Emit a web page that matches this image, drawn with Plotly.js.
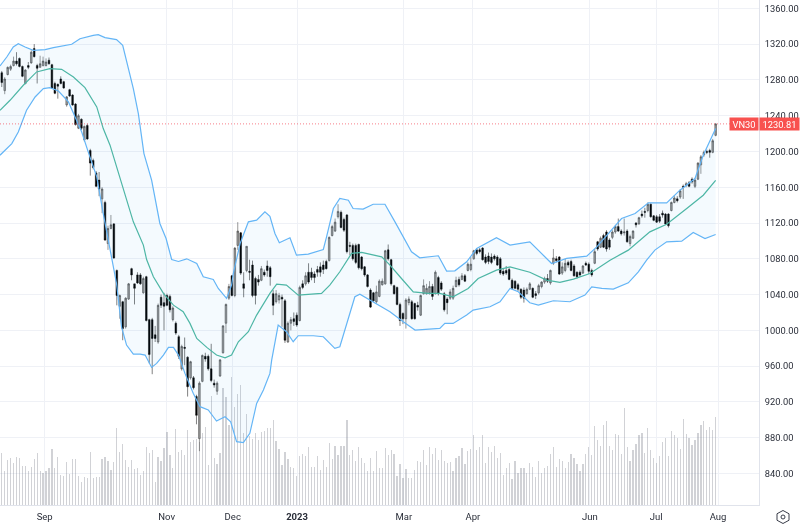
<!DOCTYPE html>
<html>
<head>
<meta charset="utf-8">
<script src="https://cdn.plot.ly/plotly-3.0.1.min.js"></script>
<style>html,body{margin:0;padding:0;background:#fff}#chart{width:800px;height:525px;filter:blur(0.35px)}</style>
</head>
<body>
<div id="chart"></div>
<script>
const tickPos = [15.15,56.5,78.9,100.7,136.9,160.3,200,222.4,243.4];
const tickLabels = ['Sep','Nov','Dec','<b>2023</b>','Mar','Apr','Jun','Jul','Aug'];
const priceTicks = [840,880,920,960,1000,1040,1080,1120,1160,1200,1240,1280,1320,1360];
const lastPrice = 1230.81;
const symbol = 'VN30';

const open = [1288,1268,1286,1292,1296,1301,1304,1295,1276,1296,
1299,1315,1296,1294,1296,1296,1302,1297,1276,1275,
1281,1278,1252,1269,1263,1253,1226,1236,1213,1229,
1201,1190,1176,1168,1147,1143,1097,1114,1119,1067,
1027,1032,1004,1035,1069,1052,1062,1062,1042,1060,
1012,1012,995,987,1037,1031,1039,1038,1012,1008,
993,957,981,970,947,947,926,879,943,971,
971,957,941,932,949,975,1008,1036,1061,1039,
1095,1109,1052,1067,1066,1073,1058,1057,1056,1065,
1072,1070,1041,1032,1034,1037,1033,987,1008,1013,
1017,1011,1052,1052,1065,1065,1063,1068,1071,1073,
1077,1078,1106,1111,1127,1132,1124,1129,1095,1095,
1095,1096,1082,1071,1062,1045,1042,1032,1038,1051,
1052,1090,1079,1050,1048,1029,1019,1013,1031,1032,
1030,1028,1017,1041,1041,1042,1049,1041,1059,1053,
1041,1035,1036,1036,1049,1057,1057,1061,1067,1068,
1080,1090,1090,1092,1082,1083,1082,1083,1082,1080,
1066,1067,1068,1056,1055,1051,1046,1045,1041,1046,
1047,1041,1042,1049,1054,1058,1053,1075,1080,1082,
1064,1067,1076,1077,1072,1065,1065,1064,1075,1074,
1067,1075,1099,1093,1106,1110,1101,1104,1110,1116,
1111,1109,1111,1097,1103,1120,1119,1130,1133,1134,
1141,1128,1127,1127,1131,1130,1130,1134,1143,1147,
1149,1161,1162,1165,1169,1161,1169,1185,1196,1200,
1201,1199,1218];
const high = [1290,1283,1295,1297,1306,1311,1305,1296,1292,1300,
1313,1320,1298,1307,1306,1304,1305,1298,1278,1276,
1284,1279,1262,1270,1264,1254,1242,1237,1229,1231,
1203,1192,1178,1177,1160,1145,1117,1129,1120,1068,
1040,1033,1037,1053,1070,1052,1065,1064,1060,1061,
1013,1014,1005,1030,1040,1042,1041,1040,1027,1010,
995,984,992,971,966,949,928,943,973,975,
973,985,945,943,968,1006,1030,1052,1062,1093,
1121,1110,1065,1094,1079,1078,1060,1062,1072,1068,
1078,1072,1045,1045,1042,1040,1035,1010,1015,1020,
1020,1050,1056,1065,1075,1070,1066,1072,1076,1078,
1079,1105,1118,1125,1141,1134,1126,1130,1099,1097,
1097,1097,1083,1072,1063,1047,1043,1050,1057,1058,
1090,1096,1080,1051,1049,1031,1020,1036,1038,1034,
1031,1032,1040,1057,1052,1055,1052,1067,1061,1055,
1043,1037,1046,1050,1060,1060,1064,1063,1076,1082,
1090,1092,1092,1093,1085,1087,1086,1085,1084,1082,
1069,1072,1070,1058,1056,1053,1047,1048,1048,1054,
1048,1044,1052,1055,1060,1063,1068,1091,1083,1083,
1076,1080,1078,1079,1074,1066,1067,1073,1077,1076,
1069,1091,1100,1105,1108,1112,1103,1112,1118,1125,
1113,1125,1113,1107,1112,1121,1127,1134,1137,1143,
1142,1129,1129,1130,1134,1131,1131,1144,1151,1150,
1158,1163,1166,1167,1171,1170,1188,1196,1201,1202,
1203,1214,1231.5];
const low = [1272,1264,1285,1290,1295,1296,1294,1283,1275,1292,
1298,1305,1276,1294,1295,1295,1297,1270,1264,1259,
1275,1270,1250,1261,1251,1229,1225,1224,1211,1213,
1173,1180,1160,1150,1131,1100,1090,1113,1080,1028,
1013,989,1002,1034,1056,1029,1052,1051,1041,1010,
963,951,987,985,1025,1000,1027,1020,1010,995,
968,955,961,926,945,934,895,865,942,965,
955,942,936,928,948,974,997,1034,1038,1037,
1090,1062,1037,1065,1056,1037,1029,1050,1055,1060,
1060,1050,1017,1030,1030,1004,986,986,1000,1005,
1004,1010,1046,1050,1052,1056,1053,1060,1060,1063,
1068,1077,1105,1110,1125,1114,1110,1086,1084,1078,
1074,1068,1067,1060,1048,1025,1032,1030,1037,1050,
1051,1078,1050,1040,1028,1005,1007,1002,1028,1012,
1012,1022,1016,1040,1040,1040,1034,1040,1039,1044,
1021,1018,1034,1034,1048,1049,1056,1054,1066,1066,
1079,1084,1086,1078,1074,1074,1074,1078,1072,1062,
1061,1062,1056,1046,1046,1044,1035,1031,1040,1045,
1036,1035,1040,1047,1052,1053,1051,1073,1076,1062,
1062,1065,1070,1066,1060,1058,1060,1063,1072,1063,
1060,1074,1089,1092,1092,1088,1090,1102,1108,1110,
1106,1106,1098,1094,1102,1115,1118,1126,1126,1132,
1126,1122,1120,1120,1126,1118,1115,1133,1142,1143,
1147,1147,1160,1160,1164,1159,1168,1175,1194,1197,
1193,1198,1217];
const close = [1277,1281,1294,1295,1301,1298,1295,1284,1291,1294,
1311,1306,1293,1298,1301,1300,1298,1271,1265,1273,
1276,1271,1261,1262,1252,1230,1240,1226,1228,1214,
1187,1182,1161,1158,1158,1101,1114,1118,1081,1039,
1039,1002,1036,1052,1062,1047,1053,1052,1058,1011,
973,991,991,1028,1028,1027,1028,1023,1025,997,
971,982,980,937,965,936,905,941,972,968,
957,944,939,941,967,1005,1029,1049,1039,1092,
1111,1064,1047,1094,1065,1039,1039,1054,1069,1062,
1067,1060,1028,1041,1039,1035,989,1008,1012,1010,
1006,1048,1048,1061,1054,1059,1059,1065,1065,1068,
1069,1104,1116,1121,1133,1115,1112,1088,1094,1080,
1076,1070,1069,1062,1049,1026,1033,1043,1055,1055,
1089,1080,1052,1041,1029,1011,1013,1034,1035,1013,
1013,1026,1039,1050,1047,1049,1038,1065,1041,1046,
1023,1031,1043,1047,1056,1051,1061,1055,1074,1074,
1089,1086,1088,1079,1076,1077,1076,1080,1073,1064,
1063,1064,1057,1047,1047,1046,1037,1036,1046,1052,
1037,1039,1050,1054,1058,1055,1067,1081,1078,1063,
1071,1075,1073,1067,1061,1060,1062,1072,1073,1066,
1062,1088,1091,1103,1093,1091,1093,1110,1116,1111,
1108,1110,1099,1105,1111,1118,1126,1128,1132,1141,
1127,1123,1121,1122,1129,1119,1117,1143,1148,1145,
1156,1160,1164,1161,1166,1168,1187,1194,1199,1199,
1199,1212,1230.81];
const volume = [52,34,45,47,42,48,47,39,39,34,
38,46,52,34,32,34,37,56,37,48,
30,29,43,31,46,46,29,23,28,27,
53,27,28,28,46,48,44,35,43,77,
53,61,45,38,45,36,37,30,34,58,
52,55,23,48,44,57,73,50,37,76,
53,55,50,75,63,65,66,63,72,78,
40,109,47,41,52,117,108,80,128,98,
111,120,72,91,69,66,72,65,73,74,
77,77,85,64,56,40,53,46,38,37,
29,49,51,49,58,38,38,49,35,45,
38,62,46,59,50,59,59,85,50,55,
44,58,47,42,34,47,34,54,37,37,
57,50,55,51,29,41,27,36,27,27,
35,44,43,55,40,58,51,57,45,55,
44,42,43,34,47,49,57,41,54,56,
70,55,58,70,42,58,53,59,47,52,
30,37,42,26,44,32,37,37,32,42,
38,28,44,32,37,39,51,58,38,46,
44,37,43,51,47,41,34,41,51,58,
50,79,65,59,80,84,59,55,71,70,
51,97,58,44,55,61,70,72,52,77,
55,47,42,49,63,67,49,74,70,67,
56,86,71,67,60,65,72,80,84,75,
78,75,88];

const upperX = [0,2.3,4.5,6.2,8.5,11.3,15.3,18.1,24.3,27.1,31.6,33.3,35.6,39.5,41.6,43.5,45.2,46.9,48.8,51.4,54.2,56.3,58.2,60.5,63.3,66.7,68.9,72.3,74,76.8,78.5,79.1,81.4,84.2,87,89.8,91.5,93.2,94.7,98.3,100.5,104.5,109.6,110.7,113,115.2,118.1,119.7,123.1,126.5,130.5,133.9,136.1,139.5,142.3,148.6,151.4,154.2,158.2,161.6,168.3,172.9,179.6,182.5,187,192.1,198.9,202.3,206.8,210.7,215.3,219.8,226,230.5,235.6,238.4,242.6];
const upperY = [1295.6,1305.6,1316.8,1320.5,1316.8,1313,1313.8,1316,1319.8,1326,1329.8,1330.6,1327.2,1325,1318.6,1294.4,1270.2,1242.3,1197.6,1167.9,1119.5,1102.7,1079.2,1077,1080,1074.8,1059.9,1056.9,1046.9,1035.7,1050.6,1063.6,1097.1,1121.3,1123.2,1132.5,1127.5,1108.3,1097.9,1103.5,1084.1,1085.2,1090.4,1104.6,1136.2,1147.4,1145.5,1136.2,1135.5,1141,1141,1121.3,1108.3,1087.8,1081.1,1083.4,1066.2,1066.6,1076.7,1091.5,1103.5,1095.3,1099,1089.7,1074.8,1080.4,1083,1093.4,1110.1,1125,1130.6,1142.5,1142.5,1156.7,1169.7,1195.8,1225.6];
const basisX = [0,3.4,7.9,12.4,16.9,20.9,24.9,28.8,32.8,35,37.3,39.5,42.4,45.2,48.6,49.7,52,55.4,58.8,62.1,64.4,66.7,70.1,73.4,76.3,78.5,80.8,84.2,87,89.3,91.5,93.8,97.1,101.1,109,111.8,115.2,119.2,122.6,129.4,132.2,136.1,140.1,145.2,149.1,153.6,158.7,162.1,168.3,172.9,179.6,185.3,189.8,194.4,200,206.8,213,220.3,226,232.8,238.4,242.6];
const basisY = [1246,1257.2,1274,1288.9,1292.6,1291.8,1283.3,1271.4,1249.8,1225.6,1207,1182.8,1149.2,1121.3,1095.3,1079.2,1059.9,1041.3,1028.2,1020.8,1007.8,991,981,972.4,969.4,972.4,987.3,998.5,1017.1,1030.1,1041.3,1051.7,1050.6,1039.4,1041.3,1050.6,1065.5,1086,1087.1,1082.2,1072.9,1058,1043.1,1041.3,1041.3,1037.5,1046.9,1058,1067.3,1071,1065,1056.2,1053.6,1057.3,1063.6,1078.5,1089.7,1110.1,1118.7,1136.2,1151.1,1167.8];
const lowerX = [0,4,6.2,9,11.9,14.7,16.9,19.8,23.2,25.4,27.7,29.9,32.8,35,37.9,39.5,41.2,42.9,45.2,47.5,49.2,51.4,53.1,55.4,57.1,58.8,60.5,62.7,65.5,67.8,70.6,73.4,76.3,78.2,80.2,82.5,84.7,87,89.3,91.5,92.1,94.3,97.1,99.4,101.1,106.2,109.6,113.5,115.2,117.5,120.3,122,125.4,132.2,136.7,140.7,149.1,150.8,153.6,158.2,160.4,166.1,169.5,172.9,175.7,179.6,182.5,187.6,193.2,198.3,200.6,204,207.9,213,216.4,219.2,222,226,231.1,235,239,242.6];
const lowerY = [1195.8,1208.8,1221.8,1246,1260.9,1270.2,1271.4,1267.6,1255.4,1238.6,1221.8,1199.5,1171.6,1130.6,1082.2,1052.4,1004,983.6,973.5,973.5,972.4,958.6,963.1,972.4,981,981,972.4,951.9,929.6,914.7,911,898.7,903.5,897.9,875.6,874.5,884.9,918.4,933.3,951.9,966.8,1005.9,998.5,987.3,994,994,992.9,979.9,981.7,1007.8,1037.6,1040.5,1033.8,1020.8,1009.6,1000.3,1002.2,1007.8,1007.8,1017.1,1022.7,1026.4,1032,1046.9,1043.1,1030.9,1028.2,1033.1,1032,1039.4,1048.7,1046.9,1046.1,1053.2,1065.5,1078.5,1089.7,1099,1099.7,1109.4,1102.7,1107.2];

const barSlot = open.map((_, k) => k + 0.6);

const traces = [
  {type:'bar', x:barSlot, y:volume, xaxis:'x', yaxis:'y', width:0.42,
   marker:{color:'rgba(120,123,134,0.34)', line:{width:0}}, hoverinfo:'skip'},
  {type:'scatter', mode:'lines', x:upperX, y:upperY, xaxis:'x', yaxis:'y2',
   line:{color:'#64b5f6', width:1.2}, hoverinfo:'skip'},
  {type:'scatter', mode:'lines', x:lowerX, y:lowerY, xaxis:'x', yaxis:'y2',
   line:{color:'#64b5f6', width:1.2}, fill:'tonexty', fillcolor:'rgba(33,150,243,0.05)', hoverinfo:'skip'},
  {type:'scatter', mode:'lines', x:basisX, y:basisY, xaxis:'x', yaxis:'y2',
   line:{color:'#4db6a5', width:1.2}, hoverinfo:'skip'},
  {type:'candlestick', x:barSlot, open:open, high:high, low:low, close:close, xaxis:'x', yaxis:'y2',
   whiskerwidth:0,
   increasing:{line:{color:'#333333', width:0.5}, fillcolor:'#a0a0a0'},
   decreasing:{line:{color:'#000000', width:0.5}, fillcolor:'#000000'},
   hoverinfo:'skip'}
];

const W = 759, H = 505;
const px = (a) => (a / W).toFixed(5);
const py = (b) => ((H - b) / H).toFixed(5);
function iconPath() {
  const cx = 783, cy = 517, rx = 6, ry = 6.5;
  const pts = [[cx, cy-ry],[cx+rx, cy-ry/2],[cx+rx, cy+ry/2],[cx, cy+ry],[cx-rx, cy+ry/2],[cx-rx, cy-ry/2]];
  return 'M' + pts.map(p => px(p[0]) + ',' + py(p[1])).join('L') + 'Z';
}

const font = 'Roboto, sans-serif';
const layout = {
  width:800, height:525,
  margin:{l:0, r:41, t:0, b:20, pad:0},
  paper_bgcolor:'#ffffff', plot_bgcolor:'#ffffff',
  showlegend:false, dragmode:false, bargap:0, boxgap:0.45, boxgroupgap:0,
  xaxis:{range:[0,257.3], tickmode:'array', tickvals:tickPos, ticktext:tickLabels,
    showgrid:true, gridcolor:'#eff1f6', gridwidth:1, zeroline:false,
    showline:true, linecolor:'#e0e3eb', linewidth:1,
    ticks:'outside', ticklen:3, tickcolor:'rgba(255,255,255,0)',
    tickfont:{family:font, size:9.5, color:'#2a2e39'}, rangeslider:{visible:false}},
  yaxis:{range:[0,505], visible:false, showgrid:false, zeroline:false, fixedrange:true},
  yaxis2:{range:[804.8,1369.3], overlaying:'y', side:'right', tickmode:'array',
    tickvals:priceTicks, tickformat:'.2f', showgrid:true, gridcolor:'#eff1f6', gridwidth:1,
    zeroline:false, showline:true, linecolor:'#e0e3eb', linewidth:1,
    ticks:'outside', ticklen:3, tickcolor:'rgba(255,255,255,0)',
    tickfont:{family:font, size:9.3, color:'#2a2e39'}},
  shapes:[
    {type:'line', xref:'paper', x0:0, x1:1, yref:'y2', y0:lastPrice, y1:lastPrice,
     line:{color:'rgba(242,54,69,0.8)', width:0.8, dash:'1px,2px'}},
    {type:'path', xref:'paper', yref:'paper', path:iconPath(), line:{color:'#3a3e4a', width:1}},
    {type:'circle', xref:'paper', yref:'paper', x0:px(781), x1:px(785), y0:py(519), y1:py(515),
     line:{color:'#3a3e4a', width:1}}
  ],
  annotations:[
    {xref:'paper', yref:'y2', x:744/W, y:lastPrice, text:symbol, showarrow:false, xanchor:'center', yanchor:'middle',
     width:28, height:12, bgcolor:'#f8514f', borderpad:0,
     font:{family:font, size:9.3, color:'#ffffff'}},
    {xref:'paper', yref:'y2', x:779/W, y:lastPrice, text:lastPrice.toFixed(2), showarrow:false, xanchor:'center', yanchor:'middle',
     width:39, height:12, bgcolor:'#f8514f', borderpad:0,
     font:{family:font, size:9.3, color:'#ffffff'}}
  ]
};
Plotly.newPlot('chart', traces, layout, {displayModeBar:false, staticPlot:true});
</script>
</body>
</html>
